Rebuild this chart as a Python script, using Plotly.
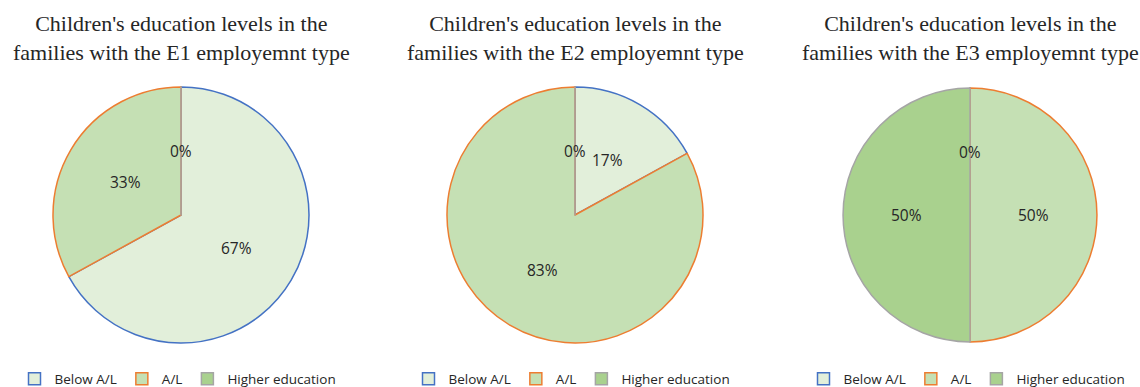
import math
import plotly.graph_objects as go

W, H = 1140, 387

categories = ["Below A/L", "A/L", "Higher education"]
e1_values = [67, 33, 0]
e2_values = [17, 83, 0]
e3_values = [0, 50, 50]
titles = [
    "Children's education levels in the<br>families with the E1 employemnt type",
    "Children's education levels in the<br>families with the E2 employemnt type",
    "Children's education levels in the<br>families with the E3 employemnt type",
]

fill_colors = ["#E2EFDA", "#C5E0B4", "#A9D18E"]
line_colors = ["#4472C4", "#ED7D31", "#A5A5A5"]

# pie geometry in pixels (center x, center y from top, radius)
pies = [(181, 215, 128), (575, 215, 128), (970, 215, 127)]
series = [e1_values, e2_values, e3_values]
legend_ids = ["legend", "legend2", "legend3"]

fig = go.Figure()
annotations = []
for k, ((cx, cy, r), vals) in enumerate(zip(pies, series)):
    # zero-width spaces keep each pie's legend entries distinct
    labels = [c + "\u200b" * k for c in categories]
    fig.add_trace(go.Pie(
        labels=labels,
        values=vals,
        sort=False,
        direction="clockwise",
        rotation=0,
        textinfo="none",
        hoverinfo="label+percent",
        marker=dict(colors=fill_colors, line=dict(color=line_colors, width=1.5)),
        domain=dict(x=[(cx - r) / W, (cx + r) / W],
                    y=[1 - (cy + r) / H, 1 - (cy - r) / H]),
        legend=legend_ids[k],
        showlegend=True,
    ))
    total = sum(vals)
    cum = 0
    for v in vals:
        mid = (cum + v / 2) / total * 2 * math.pi
        cum += v
        px = cx + 0.5 * r * math.sin(mid)
        py = cy - 0.5 * r * math.cos(mid)
        annotations.append(dict(
            x=px / W, y=1 - py / H, xref="paper", yref="paper",
            text=f"{round(v / total * 100)}%", showarrow=False,
            xanchor="center", yanchor="middle",
            font=dict(family="Open Sans", size=15.5, color="#262626"),
        ))
    annotations.append(dict(
        x=cx / W, y=1 - 38 / H, xref="paper", yref="paper",
        text=titles[k], showarrow=False, xanchor="center", yanchor="middle",
        align="center",
        font=dict(family="Liberation Serif", size=22, color="#262626"),
    ))

legend_style = dict(
    orientation="h", xanchor="center", yanchor="middle", y=1 - 379 / H,
    font=dict(family="Open Sans", size=13.5, color="#262626"),
    bgcolor="rgba(0,0,0,0)", itemclick=False, itemdoubleclick=False,
)
fig.update_layout(
    width=W, height=H,
    margin=dict(l=0, r=0, t=0, b=0, autoexpand=False),
    paper_bgcolor="white", plot_bgcolor="white",
    annotations=annotations,
    legend=dict(x=(pies[0][0] - 3) / W, **legend_style),
    legend2=dict(x=(pies[1][0] - 3) / W, **legend_style),
    legend3=dict(x=(pies[2][0] - 3) / W, **legend_style),
)
fig.write_html("out.html", config={"displayModeBar": False},
               post_script="document.body.style.margin='0px';document.body.style.overflow='hidden';")
